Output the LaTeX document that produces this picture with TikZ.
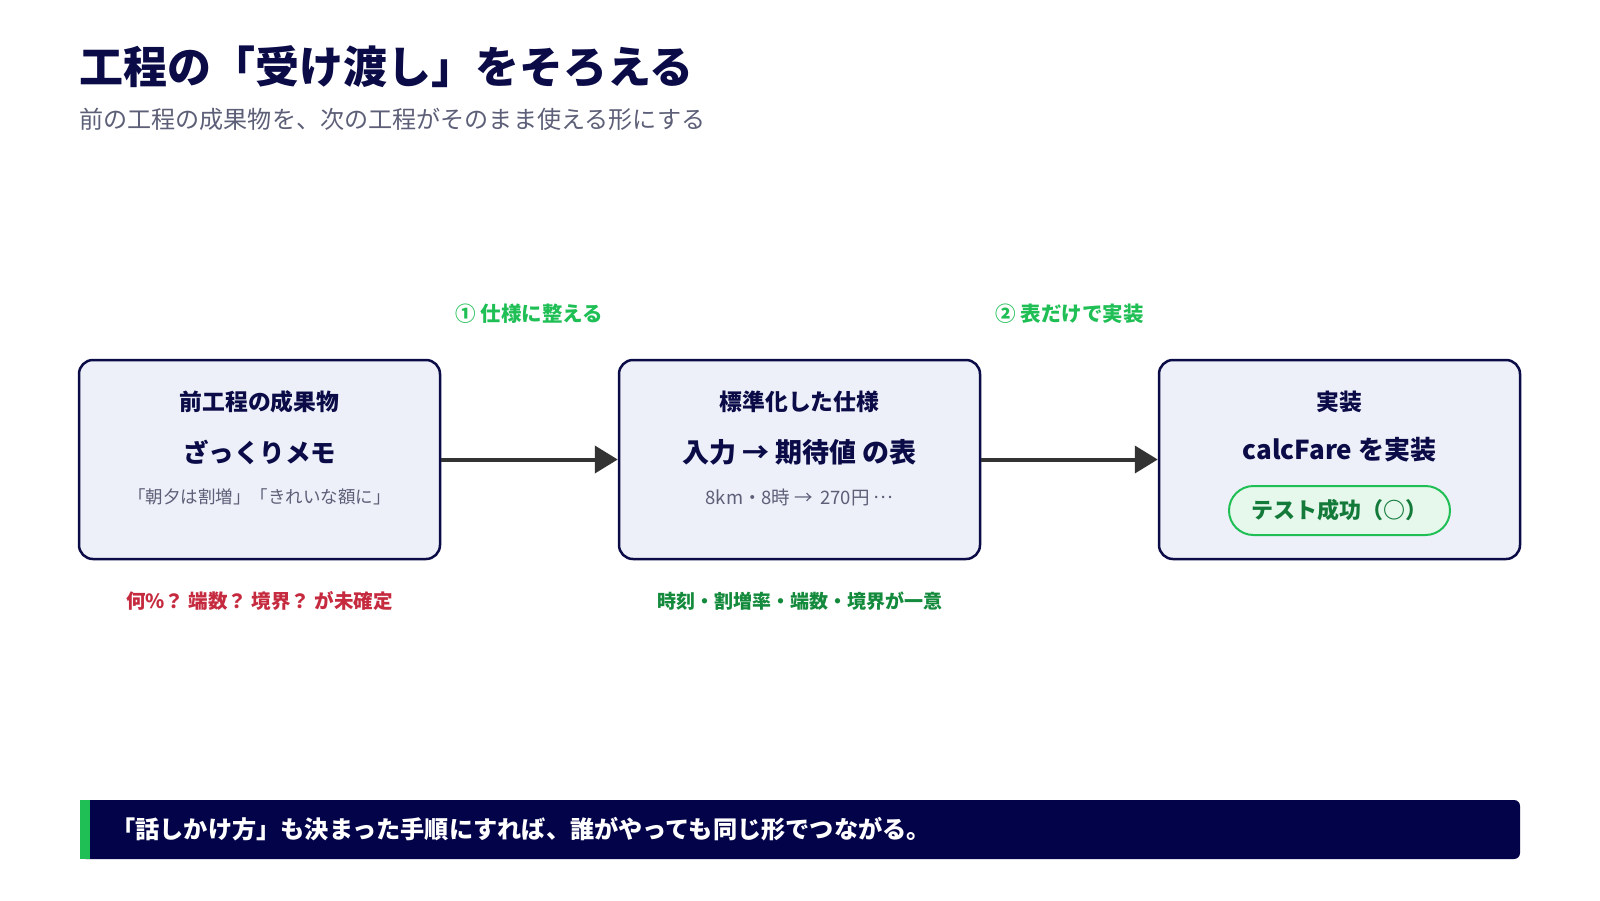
\documentclass[tikz,border=0pt]{standalone}
\usepackage{fontspec}
\setmainfont{Noto Sans CJK JP}
\newfontfamily\heavyfont{Noto Sans CJK JP Black}
\usetikzlibrary{arrows.meta}
\definecolor{navy}{HTML}{0B0B48}
\definecolor{bannernavy}{HTML}{03034A}
\definecolor{boxfill}{HTML}{EDF0F8}
\definecolor{subgray}{HTML}{5C5F77}
\definecolor{brightgreen}{HTML}{1FBF55}
\definecolor{darkgreen}{HTML}{138A3C}
\definecolor{pilltext}{HTML}{137A3A}
\definecolor{pillfill}{HTML}{E6F7EC}
\definecolor{warnred}{HTML}{C62A3F}
\definecolor{arrowgray}{HTML}{333333}
% ellipsis set on the middle line
\newcommand{\midellipsis}{\raisebox{0.3em}{…}}
\tikzset{
  stagebox/.style={draw=navy, line width=2.5pt, fill=boxfill, rounded corners=14pt,
    minimum width=361pt, minimum height=199pt, inner sep=0pt},
  boxtitle/.style={font=\fontsize{22.8}{27}\selectfont\bfseries, text=navy, inner sep=0pt},
  boxmain/.style={font=\fontsize{26}{31}\selectfont\bfseries, text=navy, inner sep=0pt},
  boxsub/.style={font=\fontsize{17.5}{21}\selectfont, text=subgray, inner sep=0pt},
  steplabel/.style={font=\fontsize{20.5}{24}\selectfont\bfseries, text=brightgreen, inner sep=0pt},
  notelabel/.style={font=\fontsize{19}{23}\selectfont\bfseries, inner sep=0pt},
  flow/.style={draw=arrowgray, line width=4pt,
    -{Triangle[length=23pt,width=27pt]}},
  pill/.style={draw=brightgreen, line width=2pt, fill=pillfill, rounded corners=24.5pt,
    minimum width=221pt, minimum height=49pt, inner sep=0pt,
    font=\fontsize{22}{26}\selectfont\bfseries, text=pilltext},
}
\begin{document}
\begin{tikzpicture}[x=1pt,y=-1pt]
\useasboundingbox[fill=white] (0,0) rectangle (1600,900);

% heading
\node[anchor=west, inner sep=0pt, text=navy, font=\heavyfont\fontsize{44}{50}\selectfont]
  (title) at (79,67) {工程の「受け渡し」をそろえる};
\node[anchor=west, inner sep=0pt, text=subgray, font=\fontsize{24.1}{29}\selectfont]
  (subtitle) at (79,119) {前の工程の成果物を、次の工程がそのまま使える形にする};

% three stages
\node[stagebox] (b1) at (259.5,459.5) {};
\node[stagebox] (b2) at (799.5,459.5) {};
\node[stagebox] (b3) at (1339.5,459.5) {};

\node[boxtitle] (t1) at (259.5,402) {前工程の成果物};
\node[boxmain, font=\fontsize{25.5}{31}\selectfont\bfseries] (m1) at (259.5,452) {ざっくりメモ};
\node[boxsub]   (s1) at (259.5,497) {「朝夕は割増」「きれいな額に」};

\node[boxtitle] (t2) at (799.5,402) {標準化した仕様};
\node[boxmain, font=\fontsize{27}{32}\selectfont\bfseries] (m2) at (799.5,452) {入力 → 期待値 の表};
\node[boxsub, font=\fontsize{18.5}{22}\selectfont] (s2) at (799.5,497) {8km・8時 → \,270円 \midellipsis};

\node[boxtitle] (t3) at (1339.5,402) {実装};
\node[boxmain]  (m3) at (1339.5,450) {calcFare を実装};
\node[pill]     (p3) at (1339.5,510.5) {テスト成功（○）};

% hand-over arrows
\draw[flow] (b1.east) -- (b2.west);
\draw[flow] (b2.east) -- (b3.west);

\node[steplabel] (l1) at (529.5,314) {① 仕様に整える};
\node[steplabel] (l2) at (1069.5,314) {② 表だけで実装};

\node[notelabel, text=warnred, font=\fontsize{19.5}{23}\selectfont\bfseries]
  (n1) at (259.5,601) {何\%？ 端数？ 境界？ が未確定};
\node[notelabel, text=darkgreen] (n2) at (799.5,601) {時刻・割増率・端数・境界が一意};

% closing banner
\fill[bannernavy, rounded corners=6pt] (80,800) rectangle (1520,859);
\fill[brightgreen] (80,800) rectangle (90,859);
\node[anchor=west, inner sep=0pt, text=white, font=\fontsize{24.2}{29}\selectfont\bfseries]
  (msg) at (111,829.5) {「話しかけ方」も決まった手順にすれば、誰がやっても同じ形でつながる。};
\end{tikzpicture}
\end{document}
